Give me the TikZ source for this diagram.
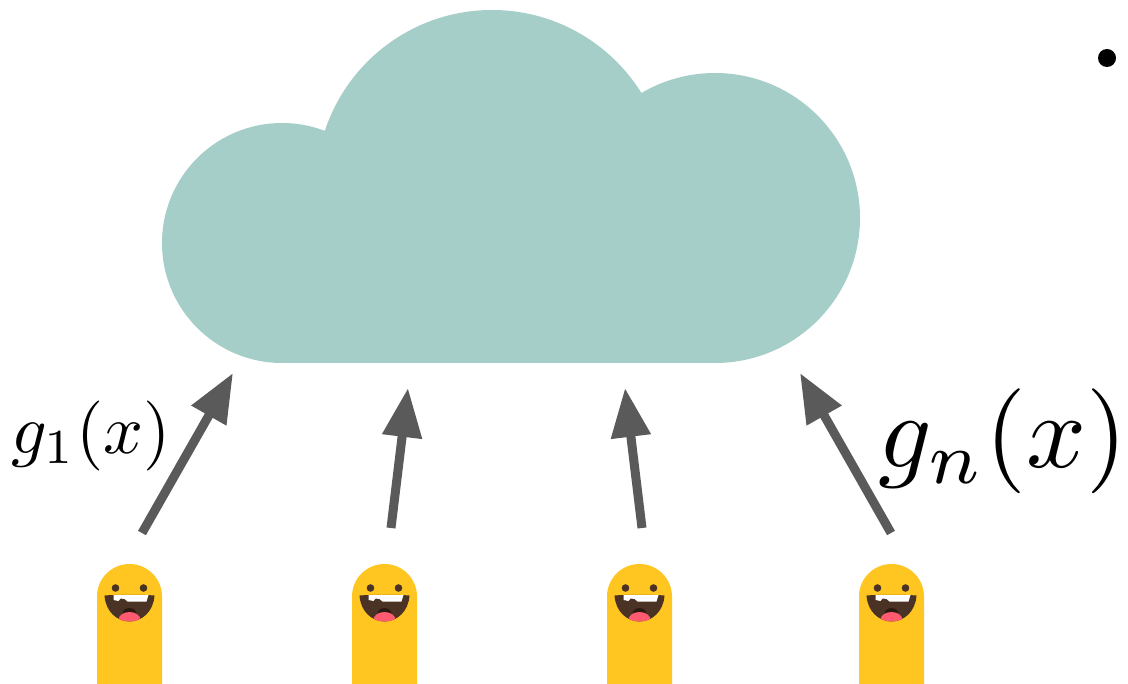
\documentclass[tikz,border=0pt]{standalone}
\usetikzlibrary{arrows.meta}
\definecolor{cloudc}{HTML}{A6CEC9}
\definecolor{arrowc}{HTML}{5A5A5A}
\definecolor{bodyc}{HTML}{FFC520}
\definecolor{mouthc}{HTML}{4A3324}
\definecolor{throatc}{HTML}{2C1A12}
\definecolor{tonguec}{HTML}{FF5A70}
\tikzset{
  up arrow/.style={draw=arrowc,line width=9pt,-{Triangle[length=49pt,width=38pt,fill=arrowc]},shorten >=0pt},
  label math/.style={inner sep=0pt,text=black},
  person/.pic={
    \fill[bodyc] (-32.5,120) -- (-32.5,32.5) arc[start angle=180,end angle=0,radius=32.5pt] -- (32.5,120) -- cycle;
    \fill[mouthc] (-14,24) circle[radius=3.8pt] (14,24) circle[radius=3.8pt];
    \begin{scope}
      \clip (-25,31.5) .. controls (-12,30.5) and (12,30.5) .. (25,31.5) .. controls (24,48) and (12,57.5) .. (0,57.5) .. controls (-12,57.5) and (-24,48) .. (-25,31.5) -- cycle;
      \fill[mouthc] (-26,28) rectangle (26,60);
      \fill[throatc] (0,50) ellipse[x radius=7pt,y radius=6pt];
      \fill[tonguec] (0,56) ellipse[x radius=11pt,y radius=8pt];
      \fill[white] (-16,31) -- (19,31) -- (17,37.5) -- (-2,37.5) -- (-5,35) -- (-9,34.5) -- (-11,37) -- (-16,36) -- cycle;
    \end{scope}
  }
}
\begin{document}
\begin{tikzpicture}[x=1pt,y=-1pt]
\useasboundingbox (0,0) rectangle (1128,684);
\fill[white] (0,0) rectangle (1128,684);
% cloud
\fill[cloudc] (282,243) circle[radius=120pt]
  (492,186) circle[radius=176pt]
  (715,218) circle[radius=145pt];
\fill[cloudc] (282,243) -- (325,130) -- (492,186) -- (642,93) -- (715,218) -- (715,363) -- (282,363) -- cycle;
\node[circle,fill=black,minimum size=18pt,inner sep=0pt] (dot) at (1107,58) {};
% people
\pic (p1) at (129.5,564) {person};
\pic (p2) at (384.5,564) {person};
\pic (p3) at (639.5,564) {person};
\pic (p4) at (891.5,564) {person};
% arrows
\coordinate (a1s) at (142,533); \coordinate (a1e) at (233,373);
\coordinate (a2s) at (391,528); \coordinate (a2e) at (408,388);
\coordinate (a3s) at (642,528); \coordinate (a3e) at (625,388);
\coordinate (a4s) at (891,533); \coordinate (a4e) at (800,373);
\draw[up arrow] (a1s) -- (a1e);
\draw[up arrow] (a2s) -- (a2e);
\draw[up arrow] (a3s) -- (a3e);
\draw[up arrow] (a4s) -- (a4e);
\node[label math,scale=7.0] (g1) at (91,436) {$g_1(x)$};
\node[label math,scale=10.5] (gn) at (1003,441.5) {$g_n(x)$};
\end{tikzpicture}
\end{document}
